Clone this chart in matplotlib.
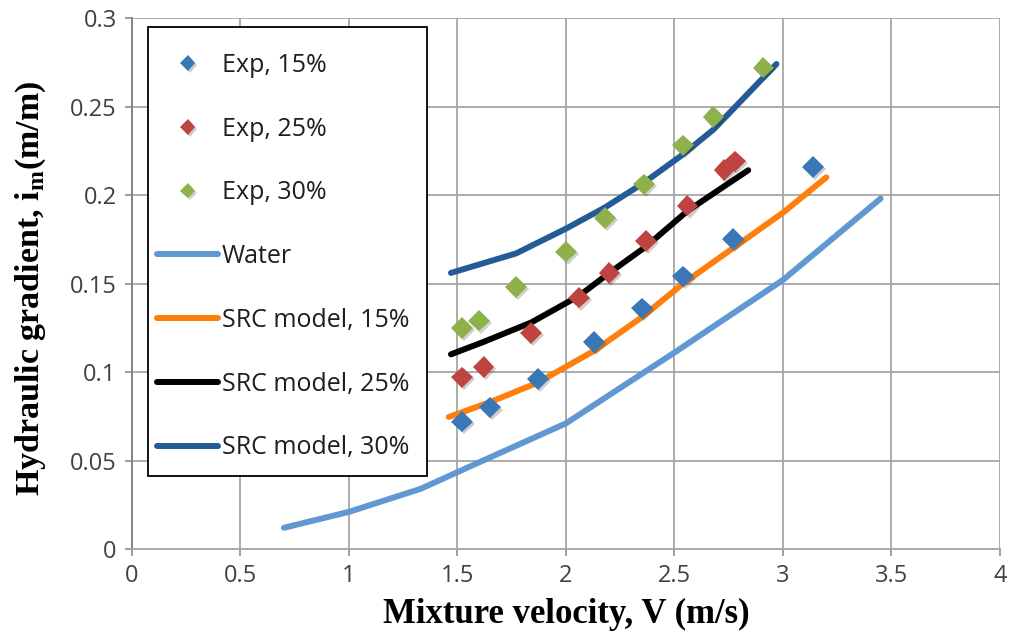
import numpy as np
import matplotlib
matplotlib.use('Agg')
import matplotlib.pyplot as plt
import matplotlib.patheffects as pe
from matplotlib.patches import Rectangle

# experimental points
v_exp15 = [1.52, 1.65, 1.87, 2.13, 2.35, 2.54, 2.77, 3.14]
i_exp15 = [0.072, 0.080, 0.096, 0.117, 0.136, 0.154, 0.175, 0.216]
v_exp25 = [1.52, 1.62, 1.84, 2.06, 2.20, 2.37, 2.56, 2.73, 2.78]
i_exp25 = [0.097, 0.103, 0.122, 0.142, 0.156, 0.174, 0.194, 0.214, 0.219]
v_exp30 = [1.52, 1.60, 1.77, 2.00, 2.18, 2.36, 2.54, 2.68, 2.91]
i_exp30 = [0.125, 0.129, 0.148, 0.168, 0.187, 0.206, 0.228, 0.244, 0.272]

# model curves
v_water = [0.70, 1.00, 1.33, 1.60, 2.00, 2.50, 3.00, 3.45]
i_water = [0.012, 0.021, 0.034, 0.049, 0.071, 0.111, 0.152, 0.198]
v_src15 = [1.46, 1.65, 1.87, 2.13, 2.35, 2.54, 2.77, 3.00, 3.20]
i_src15 = [0.0746, 0.083, 0.094, 0.112, 0.131, 0.150, 0.170, 0.190, 0.210]
v_src25 = [1.47, 1.62, 1.84, 2.06, 2.20, 2.37, 2.56, 2.73, 2.84]
i_src25 = [0.110, 0.117, 0.128, 0.143, 0.156, 0.171, 0.191, 0.205, 0.214]
v_src30 = [1.47, 1.77, 2.00, 2.18, 2.36, 2.54, 2.68, 2.97]
i_src30 = [0.156, 0.167, 0.181, 0.193, 0.207, 0.223, 0.237, 0.274]

tick_font = 'Open Sans'
label_font = 'Liberation Serif'

fig = plt.figure(figsize=(10.1, 6.39), dpi=100)
ax = fig.add_axes([0.1307, 0.1408, 0.8593, 0.831])

lw = 4.3
ax.plot(v_water, i_water, color='#6198d2', lw=lw, solid_capstyle='round', label='Water', zorder=3)
ax.plot(v_src15, i_src15, color='#ff7f0e', lw=lw, solid_capstyle='round', label='SRC model, 15%', zorder=3)
ax.plot(v_src25, i_src25, color='black', lw=lw, solid_capstyle='round', label='SRC model, 25%', zorder=3)
ax.plot(v_src30, i_src30, color='#245b96', lw=lw, solid_capstyle='round', label='SRC model, 30%', zorder=3)

shadow = [pe.SimplePatchShadow(offset=(1.5, -1.5), alpha=0.22), pe.Normal()]
ax.plot(v_exp15, i_exp15, 'D', color='#3a77b6', ms=11, mec='none', label='Exp, 15%', zorder=4, path_effects=shadow)
ax.plot(v_exp25, i_exp25, 'D', color='#bf4440', ms=11, mec='none', label='Exp, 25%', zorder=4, path_effects=shadow)
ax.plot(v_exp30, i_exp30, 'D', color='#8fb14c', ms=11, mec='none', label='Exp, 30%', zorder=4, path_effects=shadow)

ax.set_xlim(0, 4)
ax.set_ylim(0, 0.3)
ax.set_xticks(np.arange(0, 4.01, 0.5))
ax.set_yticks(np.arange(0, 0.301, 0.05))
ax.set_xticklabels(['0', '0.5', '1', '1.5', '2', '2.5', '3', '3.5', '4'])
ax.set_yticklabels(['0', '0.05', '0.1', '0.15', '0.2', '0.25', '0.3'])
ax.grid(True, color='#a6a6a6', lw=1.3)
ax.set_axisbelow(True)
for s in ['top', 'right']:
    ax.spines[s].set_visible(False)
ax.spines['left'].set_color('#7f7f7f')
ax.spines['bottom'].set_color('#a6a6a6')
ax.spines['left'].set_linewidth(1.3)
ax.spines['bottom'].set_linewidth(1.3)
ax.tick_params(direction='out', length=5, width=1.2, color='#8c8c8c', labelsize=17,
               labelcolor='#404040', pad=6)
for t in ax.get_xticklabels() + ax.get_yticklabels():
    t.set_fontfamily(tick_font)

ax.set_xlabel('Mixture velocity, V (m/s)', fontsize=25, fontweight='bold',
              fontfamily=label_font, labelpad=7)
ax.set_ylabel(r'Hydraulic gradient, i$_\mathregular{m}$(m/m)', fontsize=24.5, fontweight='bold',
              fontfamily=label_font)
ax.yaxis.set_label_coords(-0.097, 0.49)

# legend frame drawn separately so the inner padding can differ per side
ax.add_patch(Rectangle((0.0184, 0.1375), 0.3215, 0.8455, transform=ax.transAxes,
                       facecolor='white', edgecolor='black', lw=1.3, zorder=4.8, clip_on=False))

handles, labels = ax.get_legend_handles_labels()
order = [4, 5, 6, 0, 1, 2, 3]
leg = ax.legend([handles[i] for i in order], [labels[i] for i in order],
                loc='upper left', bbox_to_anchor=(0.0288, 0.9345), frameon=False,
                handlelength=2.44, handletextpad=0.16,
                labelspacing=1.55, borderpad=0, borderaxespad=0,
                prop={'family': tick_font, 'size': 18})
leg.set_zorder(5)
for t in leg.get_texts():
    t.set_color('#1e1e1e')
for h in leg.legend_handles[:3]:
    h.set_markersize(8)
for h in leg.legend_handles[3:]:
    h.set_solid_capstyle('round')

fig.savefig('out.png', dpi=100)
